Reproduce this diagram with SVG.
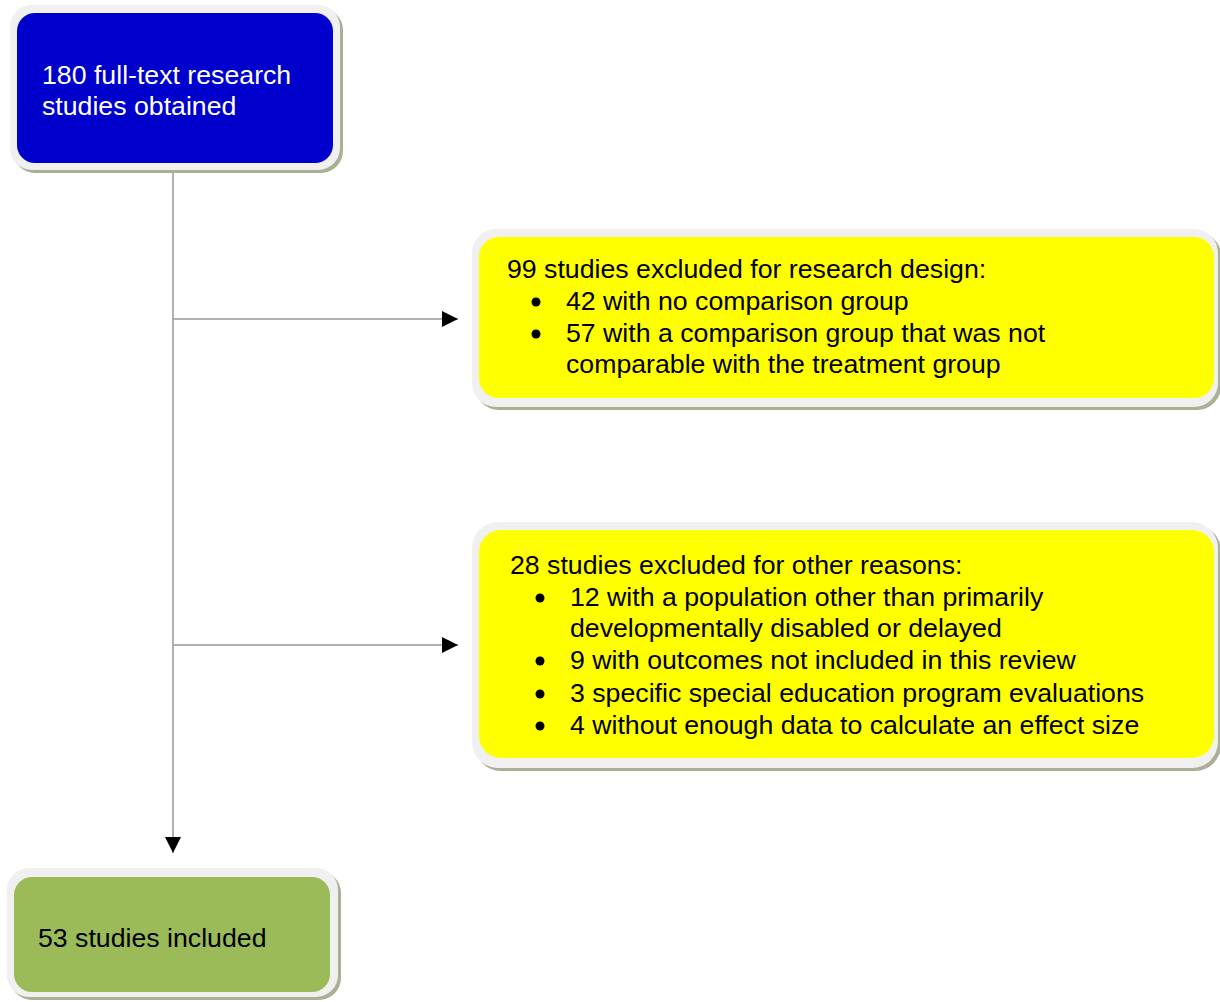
<svg xmlns="http://www.w3.org/2000/svg" width="1220" height="1002" viewBox="0 0 1220 1002">
<style>
.shadow{fill:#a9b095}
.frame{fill:#f0f0f0}
.t{font-family:"Liberation Sans",Arial,sans-serif;font-size:26.7px;fill:#000}
.w{fill:#fff}
.conn{stroke:#999;stroke-width:1.5;fill:none}
</style>
<defs>
<marker id="arr" markerWidth="17" markerHeight="17" refX="16" refY="8" orient="auto" markerUnits="userSpaceOnUse">
<path d="M0,0 L16,8 L0,16 Z" fill="#000"/>
</marker>
</defs>
<rect width="1220" height="1002" fill="#fff"/>
<g id="connectors">
<path class="conn" d="M173,172 V853" marker-end="url(#arr)"/>
<path class="conn" d="M173,319 H458" marker-end="url(#arr)"/>
<path class="conn" d="M173,645 H458" marker-end="url(#arr)"/>
</g>
<g id="node-obtained">
<rect class="shadow" x="13" y="8" width="330" height="165" rx="22"/>
<rect class="frame" x="10" y="5" width="330" height="165" rx="22"/>
<rect x="17" y="13" width="316" height="150" rx="18" fill="#0000cc"/>
<text class="t w" x="42" y="84">180 full-text research</text>
<text class="t w" x="42" y="115">studies obtained</text>
</g>
<g id="node-design">
<rect class="shadow" x="475" y="232" width="746" height="178" rx="24"/>
<rect class="frame" x="472" y="229" width="746" height="178" rx="24"/>
<rect x="479" y="237" width="735" height="161" rx="20" fill="#ffff00"/>
<text class="t" x="507" y="278">99 studies excluded for research design:</text>
<circle cx="536" cy="302" r="4.5"/>
<text class="t" x="566" y="310">42 with no comparison group</text>
<circle cx="536" cy="334" r="4.5"/>
<text class="t" x="566" y="342">57 with a comparison group that was not</text>
<text class="t" x="566" y="373">comparable with the treatment group</text>
</g>
<g id="node-other">
<rect class="shadow" x="475" y="525" width="746" height="246" rx="26"/>
<rect class="frame" x="472" y="522" width="746" height="246" rx="26"/>
<rect x="479" y="530" width="735" height="228" rx="22" fill="#ffff00"/>
<text class="t" x="510" y="574">28 studies excluded for other reasons:</text>
<circle cx="540" cy="598" r="4.5"/>
<text class="t" x="570" y="606">12 with a population other than primarily</text>
<text class="t" x="570" y="637">developmentally disabled or delayed</text>
<circle cx="540" cy="661" r="4.5"/>
<text class="t" x="570" y="669">9 with outcomes not included in this review</text>
<circle cx="540" cy="694" r="4.5"/>
<text class="t" x="570" y="702">3 specific special education program evaluations</text>
<circle cx="540" cy="726" r="4.5"/>
<text class="t" x="570" y="734">4 without enough data to calculate an effect size</text>
</g>
<g id="node-included">
<rect class="shadow" x="10" y="871" width="331" height="129" rx="22"/>
<rect class="frame" x="7" y="868" width="331" height="129" rx="22"/>
<rect x="14" y="877" width="316" height="115" rx="18" fill="#9bbb59"/>
<text class="t" x="38" y="947">53 studies included</text>
</g>
</svg>
